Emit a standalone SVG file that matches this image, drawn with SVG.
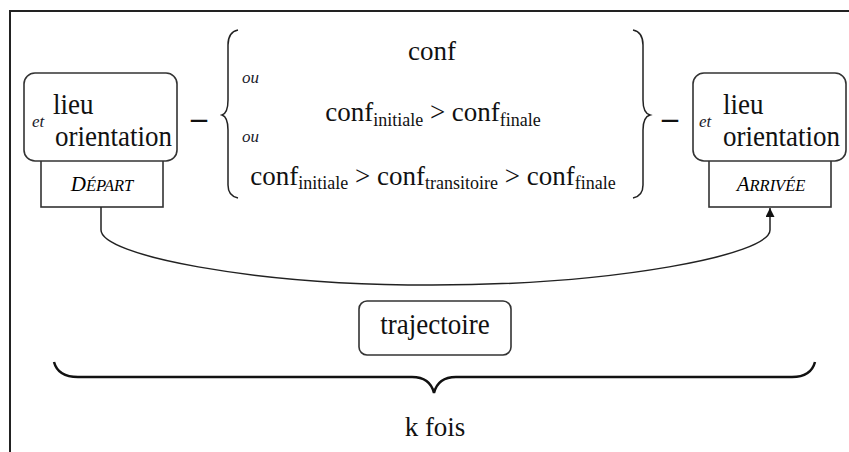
<svg xmlns="http://www.w3.org/2000/svg" width="849" height="452" viewBox="0 0 849 452">
<style>
  text { font-family: 'Liberation Serif', 'DejaVu Serif', serif; fill: #111; }
  .big { font-size: 27px; }
  .sub { font-size: 18px; }
  .it { font-style: italic; font-size: 17px; fill: #1a1a2a; }
  .sc { font-style: italic; fill: #000; }
  .box { fill: #fff; stroke: #333; stroke-width: 1.6; }
  .ln { fill: none; stroke: #222; stroke-width: 1.5; }
</style>
<defs>
  <marker id="arr" viewBox="0 0 10 10" refX="10" refY="5" markerWidth="10" markerHeight="9" markerUnits="userSpaceOnUse" orient="auto">
    <path d="M0,0 L10,5 L0,10 z" fill="#111"/>
  </marker>
</defs>
<rect width="849" height="452" fill="#fff"/>
<g id="frame">
  <path d="M10,452 L10,11 L849,11" fill="none" stroke="#222" stroke-width="2"/>
</g>
<g id="depart">
  <rect class="box" x="41" y="160" width="122" height="47"/>
  <rect class="box" x="24" y="73" width="153" height="88" rx="11"/>
  <text class="big" transform="translate(53,114) scale(1,1.1)">lieu</text>
  <text class="it" x="32" y="127">et</text>
  <text class="big" transform="translate(55,146) scale(1,1.1)">orientation</text>
  <text class="sc" x="102" y="191" text-anchor="middle"><tspan font-size="21">D</tspan><tspan font-size="16.5">ÉPART</tspan></text>
</g>
<g id="arrivee">
  <rect class="box" x="709" y="160" width="122" height="47"/>
  <rect class="box" x="693" y="73" width="153" height="88" rx="11"/>
  <text class="big" transform="translate(723,114) scale(1,1.1)">lieu</text>
  <text class="it" x="699" y="127">et</text>
  <text class="big" transform="translate(723,146) scale(1,1.1)">orientation</text>
  <text class="sc" x="771" y="191" text-anchor="middle"><tspan font-size="21">A</tspan><tspan font-size="16.5">RRIVÉE</tspan></text>
</g>
<g id="dashes">
  <text x="199" y="128" text-anchor="middle" font-weight="bold" font-size="32">–</text>
  <text x="670" y="128" text-anchor="middle" font-weight="bold" font-size="32">–</text>
</g>
<g id="configurations">
  <path class="ln" d="M238,30 Q228,32 228,45 L228,100 Q228,113 222,115 Q228,117 228,130 L228,185 Q228,196 238,198"/>
  <path class="ln" d="M633,30 Q643,32 643,45 L643,100 Q643,113 650,115 Q643,117 643,130 L643,185 Q643,196 633,198"/>
  <text class="big" x="432" y="60" text-anchor="middle">conf</text>
  <text class="it" x="242" y="83">ou</text>
  <text class="big" x="433" y="121" text-anchor="middle">conf<tspan class="sub" dy="5">initiale</tspan><tspan dy="-5"> &gt; conf</tspan><tspan class="sub" dy="5">finale</tspan></text>
  <text class="it" x="242" y="142">ou</text>
  <text class="big" x="433" y="185" text-anchor="middle">conf<tspan class="sub" dy="4">initiale</tspan><tspan dy="-4"> &gt; conf</tspan><tspan class="sub" dy="4">transitoire</tspan><tspan dy="-4"> &gt; conf</tspan><tspan class="sub" dy="4">finale</tspan></text>
</g>
<g id="connectors">
  <path class="ln" d="M101,207 L101,230 C101,255 250,285 432,285 C614,285 770,255 770,230 L770,208" marker-end="url(#arr)"/>
</g>
<g id="trajectoire">
  <rect class="box" x="359" y="301" width="152" height="54" rx="8"/>
  <text class="big" transform="translate(435,334) scale(1,1.08)" text-anchor="middle">trajectoire</text>
</g>
<g id="kfois">
  <path d="M54,362 Q58,377 78,377 L412,377 Q430,377 434,393 Q438,377 456,377 L792,377 Q811,377 815,362" fill="none" stroke="#111" stroke-width="2.5"/>
  <text class="big" x="435" y="436" text-anchor="middle">k fois</text>
</g>
</svg>
